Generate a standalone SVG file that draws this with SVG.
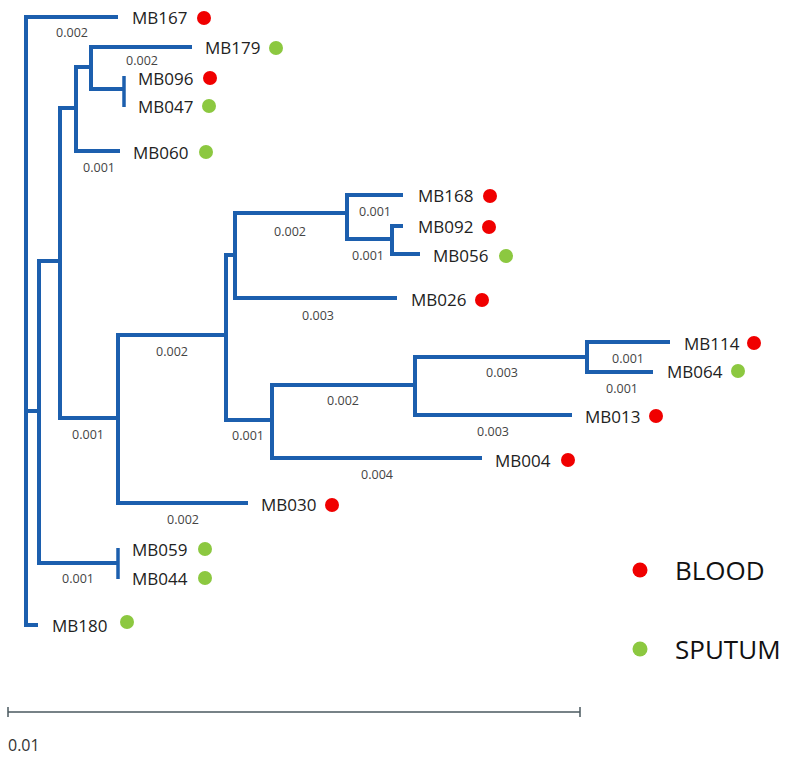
<svg xmlns="http://www.w3.org/2000/svg" width="798" height="758" viewBox="0 0 798 758">
<style>
.br{fill:none;stroke:#1c5fae;stroke-width:4;stroke-linecap:butt;stroke-linejoin:miter}
.tip{font-family:"Open Sans","Noto Sans",sans-serif;font-size:17px;fill:#222}
.bl{font-family:"Open Sans","Noto Sans",sans-serif;font-size:12.5px;fill:#444;text-anchor:middle}
.red{fill:#f00000}
.grn{fill:#8cc840}
.leg{font-family:"Open Sans","Noto Sans",sans-serif;font-size:26px;fill:#111}
</style>
<rect width="798" height="758" fill="#fff"/>
<g id="connectors">
<path class="br" d="M118,17 H26 V625 H38"/>
<path class="br" d="M26,411 H39"/>
<path class="br" d="M60,261 H39 V563 H118"/>
<path class="br" d="M118,548 V579" style="stroke-width:3.5"/>
<path class="br" d="M76,108 H60 V418 H118"/>
<path class="br" d="M91,67 H76 V151 H120"/>
<path class="br" d="M192,47 H91 V89 H124"/>
<path class="br" d="M124,76 V107" style="stroke-width:3.5"/>
<path class="br" d="M226,335 H118 V503 H248"/>
<path class="br" d="M235,255 H226 V420 H272"/>
<path class="br" d="M347,213 H235 V298 H397"/>
<path class="br" d="M403,195 H347 V239 H392"/>
<path class="br" d="M403,226 H392 V254 H420"/>
<path class="br" d="M415,385 H272 V458 H482"/>
<path class="br" d="M587,357 H415 V415 H572"/>
<path class="br" d="M670,342 H587 V372 H653"/>
</g>
<g id="branch-lengths">
<text class="bl" x="72" y="37">0.002</text>
<text class="bl" x="142" y="65">0.002</text>
<text class="bl" x="99" y="172">0.001</text>
<text class="bl" x="375" y="216">0.001</text>
<text class="bl" x="290" y="236">0.002</text>
<text class="bl" x="368" y="260">0.001</text>
<text class="bl" x="318" y="320">0.003</text>
<text class="bl" x="172" y="356">0.002</text>
<text class="bl" x="88" y="439">0.001</text>
<text class="bl" x="248" y="440">0.001</text>
<text class="bl" x="183" y="524">0.002</text>
<text class="bl" x="78" y="583">0.001</text>
<text class="bl" x="502" y="377">0.003</text>
<text class="bl" x="343" y="405">0.002</text>
<text class="bl" x="493" y="436">0.003</text>
<text class="bl" x="377" y="479">0.004</text>
<text class="bl" x="628" y="363">0.001</text>
<text class="bl" x="622" y="393">0.001</text>
</g>
<g id="MB167"><text class="tip" x="132" y="24">MB167</text><circle class="red" cx="204" cy="18" r="7"/></g>
<g id="MB179"><text class="tip" x="205" y="54">MB179</text><circle class="grn" cx="276" cy="48" r="7"/></g>
<g id="MB096"><text class="tip" x="138" y="85">MB096</text><circle class="red" cx="210" cy="78" r="7"/></g>
<g id="MB047"><text class="tip" x="138" y="113">MB047</text><circle class="grn" cx="209" cy="106" r="7"/></g>
<g id="MB060"><text class="tip" x="133" y="159">MB060</text><circle class="grn" cx="206" cy="152" r="7"/></g>
<g id="MB168"><text class="tip" x="418" y="202">MB168</text><circle class="red" cx="490" cy="196" r="7"/></g>
<g id="MB092"><text class="tip" x="418" y="233">MB092</text><circle class="red" cx="489" cy="227" r="7"/></g>
<g id="MB056"><text class="tip" x="433" y="262">MB056</text><circle class="grn" cx="506" cy="256" r="7"/></g>
<g id="MB026"><text class="tip" x="411" y="306">MB026</text><circle class="red" cx="482" cy="300" r="7"/></g>
<g id="MB114"><text class="tip" x="684" y="350">MB114</text><circle class="red" cx="754" cy="343" r="7"/></g>
<g id="MB064"><text class="tip" x="667" y="378">MB064</text><circle class="grn" cx="738" cy="371" r="7"/></g>
<g id="MB013"><text class="tip" x="585" y="423">MB013</text><circle class="red" cx="656" cy="416" r="7"/></g>
<g id="MB004"><text class="tip" x="495" y="467">MB004</text><circle class="red" cx="568" cy="460" r="7"/></g>
<g id="MB030"><text class="tip" x="261" y="511">MB030</text><circle class="red" cx="332" cy="505" r="7"/></g>
<g id="MB059"><text class="tip" x="132" y="556">MB059</text><circle class="grn" cx="205" cy="549" r="7"/></g>
<g id="MB044"><text class="tip" x="132" y="585">MB044</text><circle class="grn" cx="205" cy="578" r="7"/></g>
<g id="MB180"><text class="tip" x="52" y="632">MB180</text><circle class="grn" cx="127" cy="622" r="7"/></g>
<g id="legend">
<circle class="red" cx="640" cy="570" r="7.5"/>
<text class="leg" x="675" y="580">BLOOD</text>
<circle class="grn" cx="640" cy="649" r="7.5"/>
<text class="leg" x="675" y="659">SPUTUM</text>
</g>
<g id="scale">
<path d="M8,712 H580 M8,707 V717 M580,707 V717" fill="none" stroke="#4b5a60" stroke-width="1.5"/>
<text x="8" y="751" style="font-family:'Open Sans','Noto Sans',sans-serif;font-size:16px;fill:#333">0.01</text>
</g>
</svg>
